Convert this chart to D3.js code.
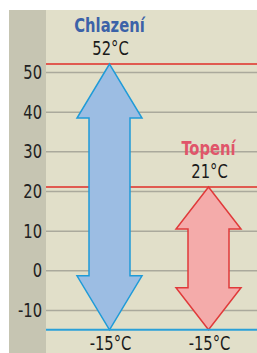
<!DOCTYPE html>
<html>
<head>
<meta charset="utf-8">
<script src="https://cdn.jsdelivr.net/npm/d3@7"></script>
<style>
  body { margin: 0; background: #fff; }
  svg text { font-family: "Liberation Sans Narrow", "DejaVu Sans Condensed", "Arial Narrow", sans-serif; }
</style>
</head>
<body>
<div id="chart"></div>
<script>
// data
const modes = ["Chlazení", "Topení"];
const maxTemps = [52, 21];
const minTemps = [-15, -15];
const yTicks = [-10, 0, 10, 20, 30, 40, 50];

const width = 257;
const height = 353;
const bandLeft = 9, plotLeft = 46, plotTop = 10;
const squeeze = 0.82; // narrow the type like the condensed face in the original

const y = d3.scaleLinear().domain([-10, 50]).range([310, 72]);
const x = d3.scalePoint().domain(modes).range([109.5, 208.5]);

const svg = d3.select("#chart")
  .append("svg")
  .attr("width", width)
  .attr("height", height);

// backgrounds
svg.append("rect")
  .attr("x", bandLeft).attr("y", plotTop)
  .attr("width", plotLeft - bandLeft).attr("height", height - plotTop)
  .attr("fill", "#c6c5b2");
svg.append("rect")
  .attr("x", plotLeft).attr("y", plotTop)
  .attr("width", width - plotLeft).attr("height", height - plotTop)
  .attr("fill", "#e1dfc9");

// grid + tick labels
const axis = d3.axisLeft(y)
  .tickValues(yTicks)
  .tickFormat(d => String(d))
  .tickSize(-(width - plotLeft))
  .tickPadding(4);
const g = svg.append("g")
  .attr("transform", `translate(${plotLeft},0)`)
  .call(axis);
g.select(".domain").remove();
g.selectAll(".tick line").attr("stroke", "#aaa99c").attr("stroke-width", 1.5);
g.attr("font-family", null).attr("font-size", null);
g.selectAll(".tick text")
  .attr("font-size", 20)
  .attr("fill", "#222")
  .attr("x", -4 / squeeze)
  .attr("transform", `scale(${squeeze},1)`);

// reference lines for max temperatures
svg.selectAll(".maxline")
  .data(maxTemps)
  .enter()
  .append("line")
  .attr("class", "maxline")
  .attr("x1", plotLeft).attr("x2", width)
  .attr("y1", d => y(d)).attr("y2", d => y(d))
  .attr("stroke", "#e05a50")
  .attr("stroke-width", 2);

const fills = ["#9cbde3", "#f4abaa"];
const strokes = ["#1f9bd8", "#e03a3a"];
const headLen = [54, 42];
const headHalf = 32.5, shaftHalf = 20.5;

const items = modes.map((m, i) => ({ mode: m, max: maxTemps[i], min: minTemps[i], i }));

function arrowPath(d) {
  const cx = x(d.mode), y0 = y(d.max), y1 = y(d.min), h = headLen[d.i];
  return [
    [cx, y0],
    [cx + headHalf, y0 + h],
    [cx + shaftHalf, y0 + h],
    [cx + shaftHalf, y1 - h],
    [cx + headHalf, y1 - h],
    [cx, y1],
    [cx - headHalf, y1 - h],
    [cx - shaftHalf, y1 - h],
    [cx - shaftHalf, y0 + h],
    [cx - headHalf, y0 + h]
  ].map(p => p.join(",")).join(" ");
}

svg.selectAll(".arrow")
  .data(items)
  .enter()
  .append("polygon")
  .attr("class", "arrow")
  .attr("points", arrowPath)
  .attr("fill", d => fills[d.i])
  .attr("stroke", d => strokes[d.i])
  .attr("stroke-width", 1.5)
  .attr("stroke-linejoin", "miter");

// baseline at min temperature
svg.append("line")
  .attr("x1", plotLeft).attr("x2", width)
  .attr("y1", y(d3.min(minTemps))).attr("y2", y(d3.min(minTemps)))
  .attr("stroke", "#2aa0d8")
  .attr("stroke-width", 2);

// labels
function place(px, py) {
  return `translate(${px},${py}) scale(${squeeze},1)`;
}

const titleColors = ["#3b62a8", "#e0556a"];
svg.selectAll(".title")
  .data(items)
  .enter()
  .append("text")
  .attr("class", "title")
  .attr("transform", d => place(x(d.mode), y(d.max) - 32))
  .attr("text-anchor", "middle")
  .attr("font-size", 20)
  .attr("font-weight", "bold")
  .attr("fill", d => titleColors[d.i])
  .text(d => d.mode);

svg.selectAll(".maxlabel")
  .data(items)
  .enter()
  .append("text")
  .attr("class", "maxlabel")
  .attr("transform", d => place(x(d.mode) + 1, y(d.max) - 9))
  .attr("text-anchor", "middle")
  .attr("font-size", 20)
  .attr("fill", "#1a1a1a")
  .text(d => d.max + "°C");

svg.selectAll(".minlabel")
  .data(items)
  .enter()
  .append("text")
  .attr("class", "minlabel")
  .attr("transform", d => place(x(d.mode) + 1, y(d.min) + 20))
  .attr("text-anchor", "middle")
  .attr("font-size", 20)
  .attr("fill", "#1a1a1a")
  .text(d => d.min + "°C");
</script>
</body>
</html>
